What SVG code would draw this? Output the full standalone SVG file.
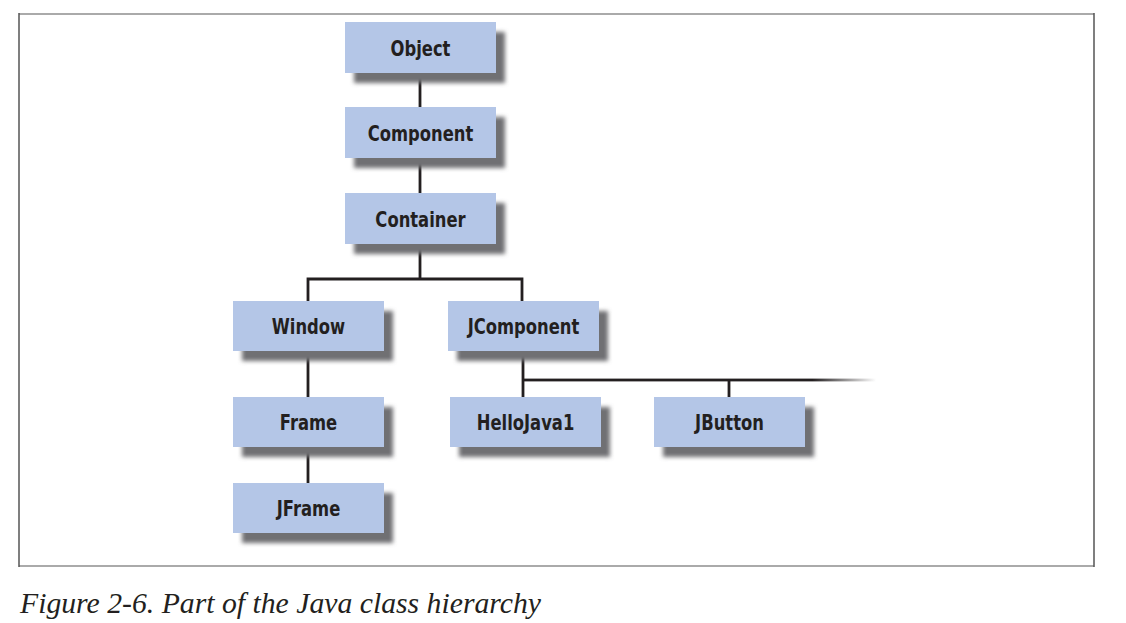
<svg xmlns="http://www.w3.org/2000/svg" width="1126" height="623" viewBox="0 0 1126 623">
<defs>
<filter id="sh" x="-20%" y="-30%" width="150%" height="170%">
<feGaussianBlur stdDeviation="2"/>
</filter>
<linearGradient id="fade" x1="0" y1="0" x2="1" y2="0" gradientUnits="objectBoundingBox">
<stop offset="0" stop-color="#231f20"/>
<stop offset="0.82" stop-color="#231f20"/>
<stop offset="1" stop-color="#231f20" stop-opacity="0"/>
</linearGradient>
</defs>
<style>
.shadow{fill:#6f7073;filter:url(#sh)}
.box{fill:#b4c6e7}
.lbl{font-family:"DejaVu Sans",sans-serif;font-weight:bold;font-size:21px;fill:#231f20;text-anchor:middle}
.ln{stroke:#231f20;stroke-width:2.8;fill:none}
.cap{font-family:"Liberation Serif",serif;font-style:italic;font-size:29px;fill:#231f20}
</style>
<rect x="0" y="0" width="1126" height="623" fill="#ffffff"/>
<g id="frame">
<line x1="19" y1="14" x2="1094" y2="14" stroke="#aaaaaa" stroke-width="2"/>
<line x1="19" y1="566" x2="1094" y2="566" stroke="#aaaaaa" stroke-width="2"/>
<line x1="19" y1="13" x2="19" y2="567" stroke="#555555" stroke-width="1.5"/>
<line x1="1094" y1="13" x2="1094" y2="567" stroke="#555555" stroke-width="1.5"/>
</g>
<g id="connectors">
<line class="ln" x1="420" y1="73" x2="420" y2="108"/>
<line class="ln" x1="420" y1="158" x2="420" y2="193"/>
<polyline class="ln" points="420,243 420,279"/>
<polyline class="ln" points="308,301 308,279 522,279 522,301"/>
<line class="ln" x1="308" y1="350" x2="308" y2="397"/>
<line class="ln" x1="308" y1="447" x2="308" y2="483"/>
<line class="ln" x1="523" y1="350" x2="523" y2="397"/>
<rect x="523" y="378.6" width="353" height="2.8" fill="url(#fade)"/>
<line class="ln" x1="729" y1="380" x2="729" y2="397"/>
</g>
<g id="n-object">
<rect class="shadow" x="354" y="32" width="151" height="51"/>
<rect class="box" x="345" y="22" width="151" height="51"/>
<text class="lbl" transform="translate(420.5,56) scale(0.78,1)">Object</text>
</g>
<g id="n-component">
<rect class="shadow" x="354" y="117" width="151" height="51"/>
<rect class="box" x="345" y="107" width="151" height="51"/>
<text class="lbl" transform="translate(420.5,141) scale(0.78,1)">Component</text>
</g>
<g id="n-container">
<rect class="shadow" x="354" y="203" width="151" height="51"/>
<rect class="box" x="345" y="193" width="151" height="51"/>
<text class="lbl" transform="translate(420.5,227) scale(0.78,1)">Container</text>
</g>
<g id="n-window">
<rect class="shadow" x="242" y="311" width="151" height="50"/>
<rect class="box" x="233" y="301" width="151" height="50"/>
<text class="lbl" transform="translate(308.5,334) scale(0.78,1)">Window</text>
</g>
<g id="n-jcomponent">
<rect class="shadow" x="457" y="311" width="151" height="50"/>
<rect class="box" x="448" y="301" width="151" height="50"/>
<text class="lbl" transform="translate(523.5,334) scale(0.78,1)">JComponent</text>
</g>
<g id="n-frame">
<rect class="shadow" x="242" y="407" width="151" height="50"/>
<rect class="box" x="233" y="397" width="151" height="50"/>
<text class="lbl" transform="translate(308.5,430) scale(0.78,1)">Frame</text>
</g>
<g id="n-hellojava1">
<rect class="shadow" x="459" y="407" width="151" height="50"/>
<rect class="box" x="450" y="397" width="151" height="50"/>
<text class="lbl" transform="translate(525.5,430) scale(0.78,1)">HelloJava1</text>
</g>
<g id="n-jbutton">
<rect class="shadow" x="663" y="407" width="151" height="50"/>
<rect class="box" x="654" y="397" width="151" height="50"/>
<text class="lbl" transform="translate(729.5,430) scale(0.78,1)">JButton</text>
</g>
<g id="n-jframe">
<rect class="shadow" x="242" y="493" width="151" height="50"/>
<rect class="box" x="233" y="483" width="151" height="50"/>
<text class="lbl" transform="translate(308.5,516) scale(0.78,1)">JFrame</text>
</g>
<text class="cap" x="20" y="613" textLength="521" lengthAdjust="spacingAndGlyphs">Figure 2-6. Part of the Java class hierarchy</text>
</svg>
